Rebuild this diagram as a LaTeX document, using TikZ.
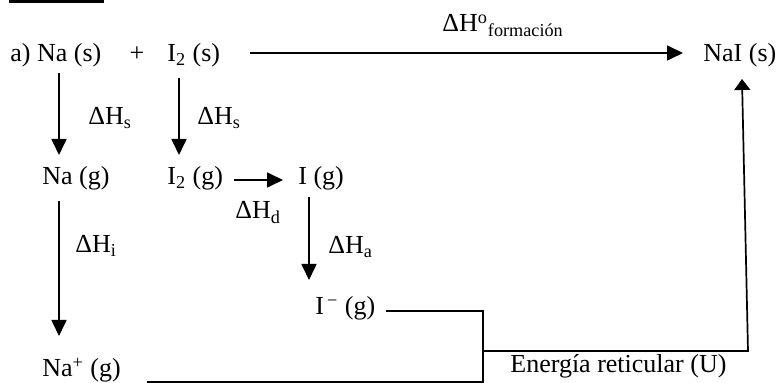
\documentclass[tikz,border=0pt]{standalone}
\usepackage{fontspec}
\setmainfont{Liberation Serif}
\usetikzlibrary{arrows.meta}
\begin{document}
\begin{tikzpicture}[x=0.5pt,y=-0.5pt,
  txt/.style={anchor=base west,inner sep=0pt,font=\fontsize{13}{15}\selectfont},
  arr/.style={line width=0.85pt,-{Triangle[length=8pt,width=7.5pt]}},
  arrup/.style={line width=0.85pt,-{Triangle[length=5.5pt,width=8pt]}},
  ln/.style={line width=0.85pt}]
\useasboundingbox (0,0) rectangle (778,383);
% title bar
\coordinate (b1) at (9,1.5);
\coordinate (b2) at (104,1.5);
\draw[line width=1.5pt] (b1) -- (b2);
% texts
\node[txt] (nas) at (10,62) {a) Na (s)};
\node[txt,anchor=base] (plus) at (137,62) {+};
\node[txt] (i2s) at (167,62) {I\textsubscript{2} (s)};
\node[txt] (nai) at (703,62) {NaI (s)};
\node[txt] (hf) at (442,32) {ΔH\textsuperscript{o}\textsubscript{formación}};
\node[txt] (hs1) at (88,125) {ΔH\textsubscript{s}};
\node[txt] (hs2) at (197,125) {ΔH\textsubscript{s}};
\node[txt] (nag) at (42,185) {Na (g)};
\node[txt] (i2g) at (167,185) {I\textsubscript{2} (g)};
\node[txt] (ig) at (298,185) {I (g)};
\node[txt] (hd) at (235,219) {ΔH\textsubscript{d}};
\node[txt] (hi) at (75,253) {ΔH\textsubscript{i}};
\node[txt] (ha) at (328,254) {ΔH\textsubscript{a}};
\node[txt] (im) at (315,315) {I\textsuperscript{\,−} (g)};
\node[txt] (nap) at (42,377) {Na\textsuperscript{+} (g)};
\node[txt] (u) at (510,373) {Energía reticular (U)};
% connector end points
\coordinate (f1) at (250,53);  \coordinate (f2) at (683,53);
\coordinate (a1) at (59,73);   \coordinate (a2) at (59,155);
\coordinate (c1) at (179,78);  \coordinate (c2) at (179,155);
\coordinate (d1) at (234,180); \coordinate (d2) at (283,180);
\coordinate (e1) at (59,201);  \coordinate (e2) at (59,336);
\coordinate (g1) at (309,197); \coordinate (g2) at (309,280);
\coordinate (m1) at (386,311); \coordinate (m2) at (483,311); \coordinate (m3) at (483,383);
\coordinate (n1) at (147,382); \coordinate (n2) at (483,382);
\coordinate (u1) at (483,351); \coordinate (u2) at (748,351); \coordinate (u3) at (742,79);
% connectors
\draw[arr] (f1) -- (f2);
\draw[arr] (a1) -- (a2);
\draw[arr] (c1) -- (c2);
\draw[arr] (d1) -- (d2);
\draw[arr] (e1) -- (e2);
\draw[arr] (g1) -- (g2);
\draw[ln] (m1) -- (m2) -- (m3);
\draw[ln] (n1) -- (n2);
\draw[arrup] (u1) -- (u2) -- (u3);
\end{tikzpicture}
\end{document}
